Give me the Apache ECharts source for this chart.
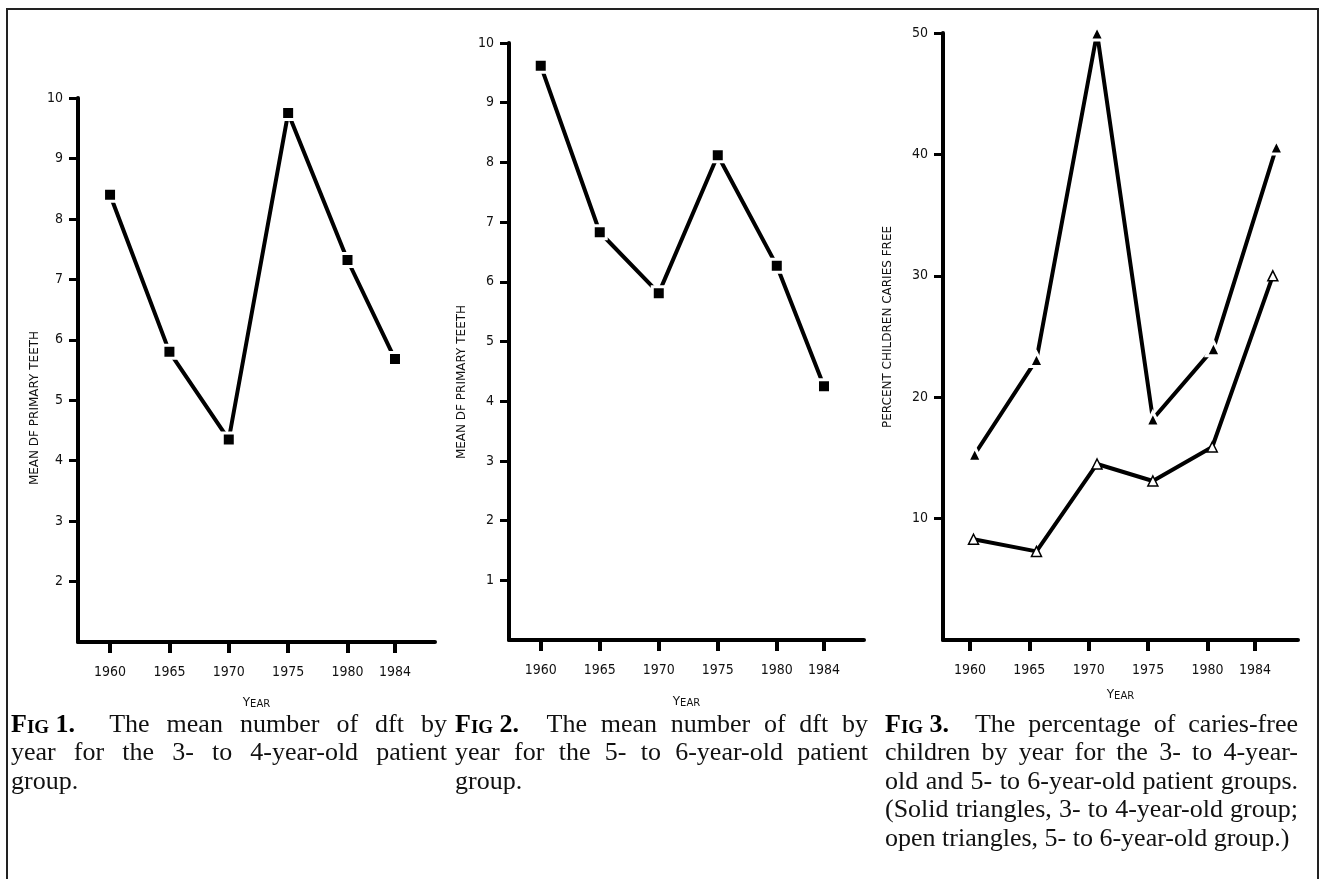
<!DOCTYPE html>
<html>
<head>
<meta charset="utf-8">
<title>dft and caries-free children by year</title>
<script src="https://cdn.jsdelivr.net/npm/echarts@6/dist/echarts.min.js"></script>
<style>
  html, body { margin: 0; padding: 0; background: #fff; }
  #main { width: 1322px; height: 879px; }
</style>
</head>
<body>
<div id="main"></div>
<script>
let chart = echarts.init(document.getElementById('main'));

/* years on the x axis */
const years = [1960, 1965, 1970, 1975, 1980, 1984];
const yearTicks = [1960, 1965, 1970, 1975, 1980, 1984];

/* fig 1: mean dft, 3- to 4-year-olds */
const dft34 = [8.4, 5.8, 4.35, 9.75, 7.32, 5.68];
/* fig 2: mean dft, 5- to 6-year-olds */
const dft56 = [9.62, 6.83, 5.81, 8.12, 6.27, 4.25];

/* fig 3: percent caries free. the scan plots the points a bit right of the year ticks */
const cfSolidAt = [1960.4, 1965.6, 1970.7, 1975.4, 1980.5, 1985.8];
const cfOpenAt = [1960.3, 1965.6, 1970.7, 1975.4, 1980.4, 1985.5];
const cariesFree34 = [15.3, 23.1, 50.0, 18.2, 24.0, 40.6];
const cariesFree56 = [8.3, 7.3, 14.5, 13.1, 15.9, 30.0];

/* y tick labels */
const ticks1 = [2, 3, 4, 5, 6, 7, 8, 9, 10];
const ticks2 = [1, 2, 3, 4, 5, 6, 7, 8, 9, 10];
const ticks3 = [10, 20, 30, 40, 50];

/* captions */
const caption1 = ['The mean number of dft by', 'year for the 3- to 4-year-old patient', 'group.'];
const caption2 = ['The mean number of dft by', 'year for the 5- to 6-year-old patient', 'group.'];
const caption3 = ['The percentage of caries-free', 'children by year for the 3- to 4-year-',
  'old and 5- to 6-year-old patient groups.', '(Solid triangles, 3- to 4-year-old group;',
  'open triangles, 5- to 6-year-old group.)'];

const ink = '#111';
const tickFont = '"DejaVu Sans Condensed", "DejaVu Sans"';
const serif = '"Liberation Serif"';
const capSize = 26;
const capLineH = 28.5;

function pairs(xs, ys) {
  return xs.map(function (x, i) { return [x, ys[i]]; });
}

/* grids: left/top/width/height in px */
const panels = [
  { left: 78, top: 98, width: 357, height: 544, xmin: 1957.3, xmax: 1987.37, ymin: 1, ymax: 10, yt: ticks1, gap: 55 },
  { left: 509, top: 43, width: 355, height: 597, xmin: 1957.31, xmax: 1987.39, ymin: 0, ymax: 10, yt: ticks2, gap: 56 },
  { left: 943, top: 33, width: 355, height: 607, xmin: 1957.73, xmax: 1987.62, ymin: 0, ymax: 50, yt: ticks3, gap: 49 }
];

let grids = [], xAxes = [], yAxes = [];
panels.forEach(function (p, i) {
  grids.push({ left: p.left, top: p.top, width: p.width, height: p.height, containLabel: false, outerBoundsMode: 'none' });
  xAxes.push({
    type: 'value', gridIndex: i, min: p.xmin, max: p.xmax,
    axisLine: { show: true, onZero: false, lineStyle: { color: '#000', width: 4 } },
    axisTick: { show: true, customValues: yearTicks, length: 11, lineStyle: { color: '#000', width: 4 } },
    axisLabel: {
      customValues: yearTicks, margin: 23, fontFamily: tickFont, fontSize: 14, color: ink,
      formatter: function (v) { return String(Math.round(v)); }
    },
    splitLine: { show: false },
    name: '{a|Y}{b|EAR}', nameLocation: 'middle', nameGap: p.gap,
    nameTextStyle: { rich: {
      a: { fontFamily: 'DejaVu Sans', fontSize: 12, color: ink, verticalAlign: 'bottom', lineHeight: 12 },
      b: { fontFamily: 'DejaVu Sans', fontSize: 10, color: ink, verticalAlign: 'bottom', lineHeight: 10 }
    } }
  });
  yAxes.push({
    type: 'value', gridIndex: i, min: p.ymin, max: p.ymax,
    axisLine: { show: true, onZero: false, lineStyle: { color: '#000', width: 4 } },
    axisTick: { show: true, customValues: p.yt, length: 9, lineStyle: { color: '#000', width: 3 } },
    axisLabel: { customValues: p.yt, margin: 15, fontFamily: tickFont, fontSize: 14, color: ink },
    splitLine: { show: false }
  });
});

function lineSeries(idx, data, symbol, size, itemStyle) {
  return {
    type: 'line', xAxisIndex: idx, yAxisIndex: idx, data: data,
    symbol: symbol, symbolSize: size, showAllSymbol: true,
    lineStyle: { color: '#000', width: 4 },
    itemStyle: itemStyle,
    silent: true, animation: false
  };
}

const solidMark = { color: '#000', borderColor: '#fff', borderWidth: 3 };
const openMark = { color: '#fff', borderColor: '#000', borderWidth: 1.5 };

let series = [
  lineSeries(0, pairs(years, dft34), 'rect', 13, solidMark),
  lineSeries(1, pairs(years, dft56), 'rect', 13, solidMark),
  lineSeries(2, pairs(cfSolidAt, cariesFree34), 'triangle', 14, solidMark),
  lineSeries(2, pairs(cfOpenAt, cariesFree56), 'triangle', 10, openMark)
];

/* caption layout: justified lines like the printed page */
const measureCtx = document.createElement('canvas').getContext('2d');
function textWidth(s, font) {
  measureCtx.font = font;
  return measureCtx.measureText(s).width;
}

function captionElements(num, lines, left, width, firstCenter) {
  const normal = capSize + 'px ' + serif;
  const bold = 'bold ' + capSize + 'px ' + serif;
  const boldSmall = 'bold 19px ' + serif;
  let out = [];
  lines.forEach(function (line, i) {
    const y = firstCenter + i * capLineH;
    let tokens = line.split(' ').map(function (w) {
      return { text: w, w: textWidth(w, normal), gap: 1 };
    });
    tokens[0].gap = 0;
    if (i === 0) {
      tokens[0].gap = 2;
      tokens.unshift({ fig: num, w: textWidth('F', bold) + textWidth('IG', boldSmall) + textWidth(' ' + num + '.', bold), gap: 0 });
    }
    let used = 0, units = 0;
    tokens.forEach(function (t) { used += t.w; units += t.gap; });
    const last = i === lines.length - 1;
    const space = (last || units === 0) ? textWidth(' ', normal) : (width - used) / units;
    let x = left;
    tokens.forEach(function (t) {
      x += t.gap * space;
      if (t.fig) {
        out.push({
          type: 'text', x: x, y: y, silent: true,
          style: {
            text: '{a|F}{b|IG}{a| ' + t.fig + '.}',
            align: 'left', textAlign: 'left', verticalAlign: 'middle', textVerticalAlign: 'middle',
            rich: {
              a: { fontFamily: serif, fontWeight: 'bold', fontSize: capSize, lineHeight: capSize, verticalAlign: 'bottom', color: ink },
              b: { fontFamily: serif, fontWeight: 'bold', fontSize: 19, lineHeight: 19, verticalAlign: 'bottom', color: ink }
            }
          }
        });
      } else {
        out.push({
          type: 'text', x: x, y: y, silent: true,
          style: { text: t.text, font: normal, fill: ink, align: 'left', textAlign: 'left', verticalAlign: 'middle', textVerticalAlign: 'middle' }
        });
      }
      x += t.w;
    });
  });
  return out;
}

function axisName(text, x, y) {
  return {
    type: 'text', x: x, y: y, rotation: Math.PI / 2, silent: true,
    style: { text: text, font: '12px "DejaVu Sans"', fill: ink, align: 'center', textAlign: 'center', verticalAlign: 'middle', textVerticalAlign: 'middle' }
  };
}

let graphics = [
  { type: 'polyline', silent: true, shape: { points: [[7, 879], [7, 9], [1318, 9], [1318, 879]] },
    style: { stroke: '#222', lineWidth: 2, fill: null } },
  axisName('MEAN DF PRIMARY TEETH', 35, 408),
  axisName('MEAN DF PRIMARY TEETH', 462, 382),
  axisName('PERCENT CHILDREN CARIES FREE', 888, 327)
];
graphics = graphics
  .concat(captionElements(1, caption1, 11, 436, 725))
  .concat(captionElements(2, caption2, 455, 413, 725))
  .concat(captionElements(3, caption3, 885, 413, 725));

let option = {
  backgroundColor: '#fff',
  animation: false,
  grid: grids,
  xAxis: xAxes,
  yAxis: yAxes,
  series: series,
  graphic: { elements: graphics }
};

chart.setOption(option);
</script>
</body>
</html>
